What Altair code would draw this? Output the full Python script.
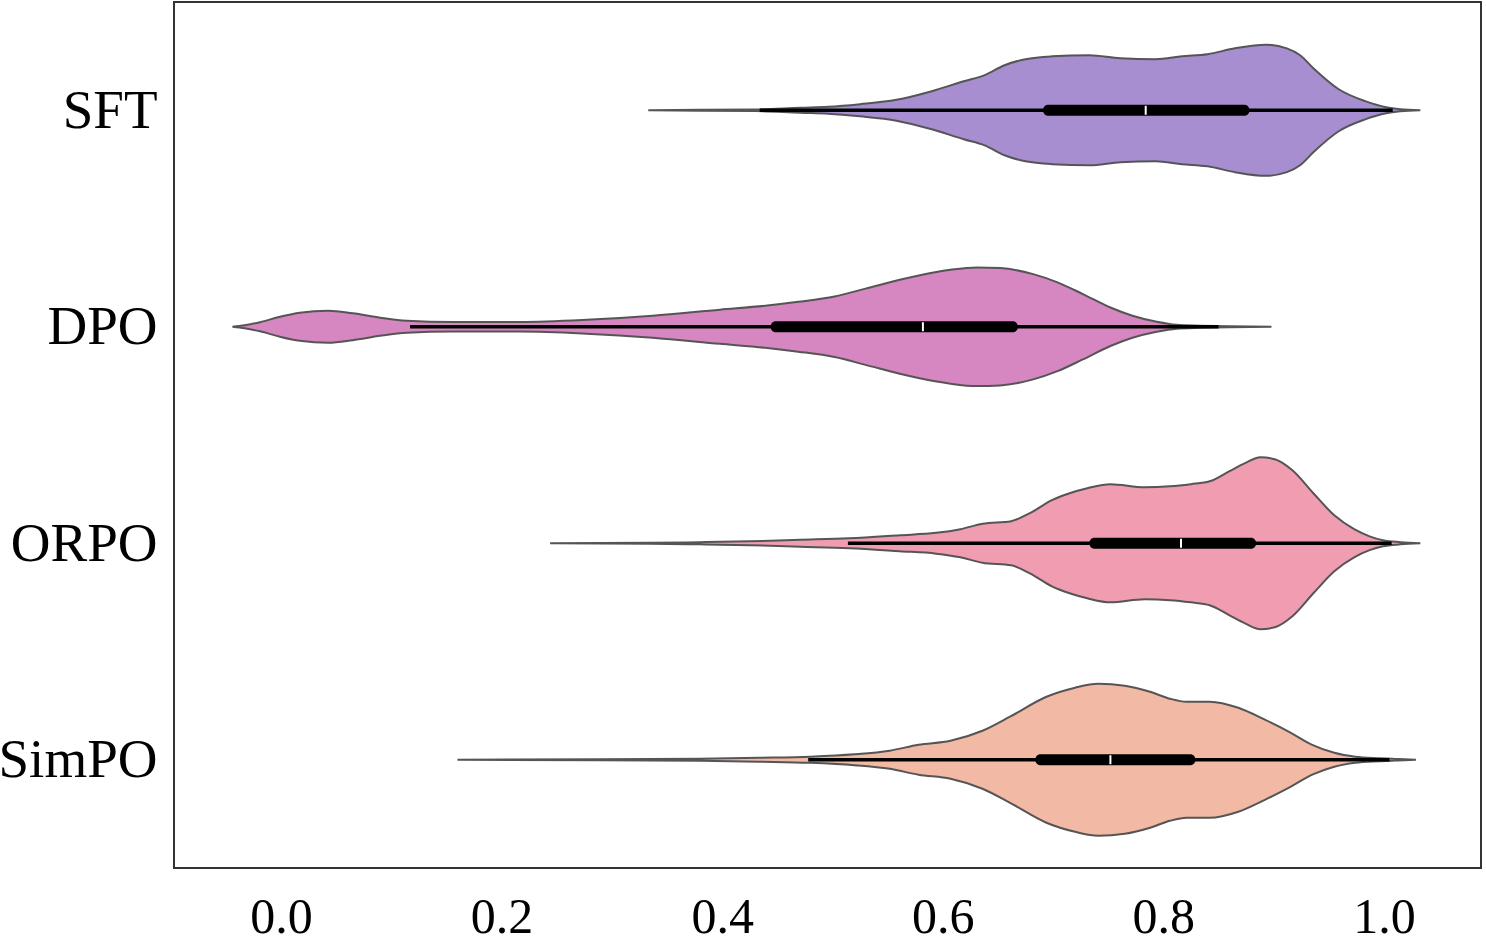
import altair as alt
import pandas as pd

# Methods, top to bottom, and their violin fills
methods = ["SFT", "DPO", "ORPO", "SimPO"]
fill_colors = ["#a78ed0", "#d686c0", "#f09db2", "#f2b9a5"]

# Density profiles: score positions and half-widths (in units of category spacing)
sft_score = [0.333, 0.380, 0.430, 0.471, 0.496, 0.525, 0.558, 0.590, 0.619, 0.638,
             0.656, 0.675, 0.699, 0.733, 0.761, 0.793, 0.817, 0.840, 0.865, 0.893,
             0.912, 0.924, 0.936, 0.959, 0.983, 1.002, 1.015, 1.033]
sft_half = [0.0, 0.002, 0.004, 0.012, 0.016, 0.028, 0.048, 0.088, 0.134, 0.162,
            0.208, 0.236, 0.249, 0.254, 0.240, 0.236, 0.249, 0.259, 0.286, 0.303,
            0.286, 0.254, 0.194, 0.097, 0.042, 0.014, 0.005, 0.0]

dpo_score = [-0.044, -0.033, -0.019, -0.001, 0.017, 0.043, 0.065, 0.090, 0.114, 0.156,
             0.217, 0.277, 0.337, 0.398, 0.439, 0.469, 0.502, 0.530, 0.561, 0.593,
             0.607, 0.631, 0.652, 0.682, 0.704, 0.727, 0.752, 0.772, 0.794, 0.812,
             0.833, 0.860, 0.898]
dpo_half = [0.0, 0.007, 0.021, 0.046, 0.065, 0.074, 0.062, 0.042, 0.028, 0.022,
            0.022, 0.032, 0.051, 0.079, 0.097, 0.115, 0.140, 0.176, 0.217, 0.252,
            0.263, 0.274, 0.271, 0.243, 0.205, 0.151, 0.089, 0.051, 0.023, 0.009,
            0.005, 0.002, 0.0]

orpo_score = [0.244, 0.335, 0.380, 0.425, 0.471, 0.515, 0.561, 0.594, 0.616, 0.636,
              0.662, 0.679, 0.699, 0.715, 0.731, 0.752, 0.783, 0.806, 0.825, 0.842,
              0.860, 0.874, 0.888, 0.901, 0.917, 0.936, 0.955, 0.973, 0.987, 0.999,
              1.015, 1.033]
orpo_half = [0.0, 0.002, 0.005, 0.009, 0.016, 0.023, 0.037, 0.048, 0.065, 0.090,
             0.102, 0.139, 0.199, 0.231, 0.254, 0.273, 0.259, 0.263, 0.273, 0.286,
             0.333, 0.370, 0.397, 0.388, 0.337, 0.231, 0.129, 0.065, 0.032, 0.014,
             0.005, 0.0]

simpo_score = [0.160, 0.289, 0.380, 0.434, 0.480, 0.520, 0.552, 0.578, 0.607, 0.636,
               0.661, 0.694, 0.720, 0.741, 0.765, 0.788, 0.806, 0.821, 0.842, 0.868,
               0.892, 0.914, 0.935, 0.955, 0.974, 0.996, 1.010, 1.029]
simpo_half = [0.0, 0.002, 0.005, 0.009, 0.014, 0.025, 0.042, 0.069, 0.088, 0.134,
              0.199, 0.291, 0.333, 0.351, 0.342, 0.314, 0.282, 0.268, 0.268, 0.240,
              0.185, 0.129, 0.069, 0.032, 0.014, 0.007, 0.004, 0.0]

# Inner box statistics per method
whisker_lo = [0.434, 0.117, 0.514, 0.478]
q1 = [0.691, 0.444, 0.733, 0.684]
median = [0.784, 0.582, 0.816, 0.752]
q3 = [0.878, 0.668, 0.884, 0.829]
whisker_hi = [1.008, 0.850, 1.007, 1.005]

x_ticks = [0.0, 0.2, 0.4, 0.6, 0.8, 1.0]

scores = [sft_score, dpo_score, orpo_score, simpo_score]
halves = [sft_half, dpo_half, orpo_half, simpo_half]

rows = []
for i, (m, xs, hs) in enumerate(zip(methods, scores, halves)):
    for x, h in zip(xs, hs):
        rows.append({"method": m, "pos": i, "score": x, "lo": i - h, "hi": i + h})
violin_df = pd.DataFrame(rows)

box_df = pd.DataFrame({
    "method": methods,
    "pos": list(range(len(methods))),
    "wlo": whisker_lo, "q1": q1, "med": median, "q3": q3, "whi": whisker_hi,
})

label_expr = "[" + ",".join(f"'{m}'" for m in methods) + "][datum.value]"

x_scale = alt.Scale(domain=[-0.097, 1.088], nice=False, zero=False)
y_scale = alt.Scale(domain=[-0.5, 3.5], reverse=True, nice=False, zero=False)

x_axis = alt.Axis(values=x_ticks, format=".1f", title=None, grid=False, ticks=False,
                  domain=False, labelFontSize=50, labelPadding=24, labelColor="black",
                  labelFont="Liberation Serif")
y_axis = alt.Axis(values=list(range(len(methods))), labelExpr=label_expr, title=None,
                  grid=False, ticks=False, domain=False, labelFontSize=55,
                  labelPadding=17, labelColor="black", labelFont="Liberation Serif",
                  labelBaseline="middle")

violins = alt.Chart(violin_df).mark_area(
    orient="vertical", interpolate="monotone", stroke="#555555", strokeWidth=2,
    fillOpacity=1,
).encode(
    x=alt.X("score:Q", scale=x_scale, axis=x_axis),
    y=alt.Y("lo:Q", scale=y_scale, axis=y_axis),
    y2="hi:Q",
    color=alt.Color("method:N", scale=alt.Scale(domain=methods, range=fill_colors), legend=None),
    detail="method:N",
)

whiskers = alt.Chart(box_df).mark_rule(color="black", strokeWidth=3.5).encode(
    x="wlo:Q", x2="whi:Q", y="pos:Q",
)

boxes = alt.Chart(box_df).mark_rect(color="black", cornerRadius=5, yOffset=-5.5, y2Offset=5.5).encode(
    x="q1:Q", x2="q3:Q", y="pos:Q", y2="pos:Q",
)

medians = alt.Chart(box_df).mark_rule(color="white", strokeWidth=2, yOffset=-4.5, y2Offset=4.5).encode(
    x="med:Q", y="pos:Q", y2="pos:Q",
)

chart = alt.layer(violins, whiskers, boxes, medians).properties(
    width=1307, height=866,
    padding={"left": 174, "top": 2, "right": 5, "bottom": 80},
    autosize=alt.AutoSizeParams(type="none"),
    background="white",
).configure_view(
    stroke="#333333", strokeWidth=2,
)

chart.save("out.html", embed_options={"renderer": "svg", "actions": False})
